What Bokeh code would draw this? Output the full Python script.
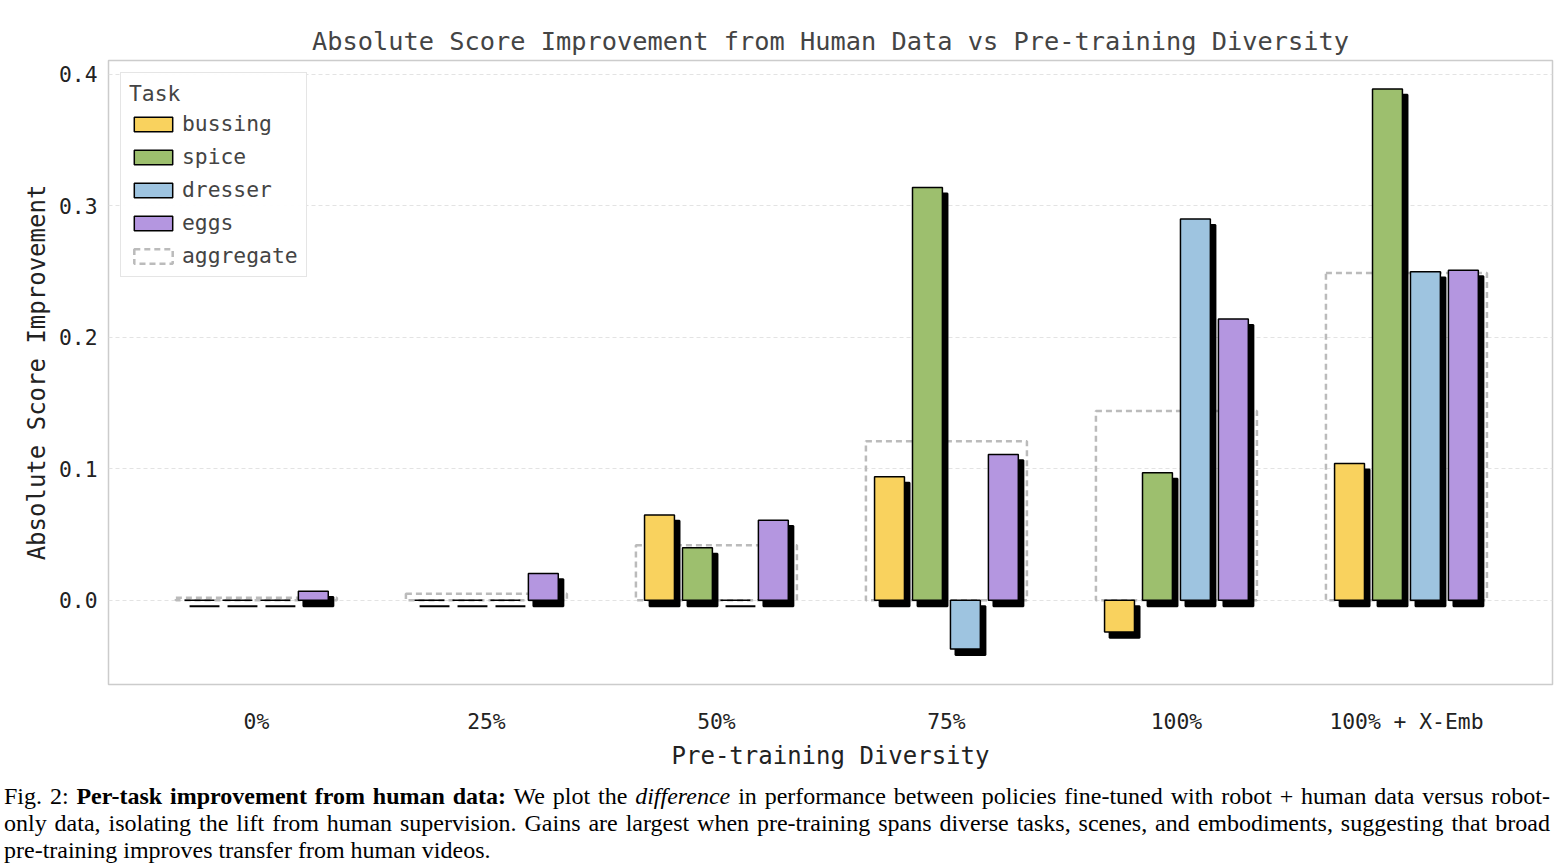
from bokeh.plotting import figure
from bokeh.models import Legend, LegendItem, FixedTicker, Div, Range1d
from bokeh.layouts import column
from bokeh.embed import file_html
from bokeh.resources import INLINE

groups = ["0%", "25%", "50%", "75%", "100%", "100% + X-Emb"]
tasks = ["bussing", "spice", "dresser", "eggs"]
colors = ["#F9D25E", "#9DBF6E", "#9EC4E0", "#B496E0"]
bussing = [0.0, 0.0, 0.065, 0.094, -0.024, 0.104]
spice = [0.0, 0.0, 0.040, 0.314, 0.097, 0.389]
dresser = [0.0, 0.0, 0.0, -0.037, 0.290, 0.250]
eggs = [0.007, 0.0205, 0.061, 0.111, 0.214, 0.251]
aggregate = [0.002, 0.005, 0.042, 0.121, 0.144, 0.249]
series = [bussing, spice, dresser, eggs]

F = "DejaVu Sans Mono"
p = figure(width=1558, height=778, output_backend="svg", toolbar_location=None,
           x_range=Range1d(-0.643, 5.635), y_range=Range1d(-0.064, 0.4106),
           min_border_left=108, min_border_right=6, min_border_top=60, min_border_bottom=94,
           title="Absolute Score Improvement from Human Data vs Pre-training Diversity")
p.title.text_font = F
p.title.text_font_size = "19pt"
p.title.text_font_style = "normal"
p.title.align = "center"
p.outline_line_color = "#cccccc"
p.outline_line_width = 1.5
p.xgrid.grid_line_color = None
p.ygrid.grid_line_color = "#e3e3e3"
p.ygrid.grid_line_dash = "4 3"
p.xaxis.ticker = FixedTicker(ticks=list(range(len(groups))))
p.xaxis.major_label_overrides = {i: g for i, g in enumerate(groups)}
p.yaxis.ticker = FixedTicker(ticks=[0.0, 0.1, 0.2, 0.3, 0.4])
p.yaxis.major_label_overrides = {0.0: "0.0", 0.1: "0.1", 0.2: "0.2", 0.3: "0.3", 0.4: "0.4"}
for ax in (p.xaxis, p.yaxis):
    ax.axis_line_color = None
    ax.major_tick_line_color = None
    ax.minor_tick_line_color = None
    ax.major_label_text_font = F
    ax.major_label_text_font_size = "16pt"
    ax.axis_label_text_font = F
    ax.axis_label_text_font_size = "18pt"
    ax.axis_label_text_font_style = "normal"
    ax.major_label_text_color = "#222222"
    ax.axis_label_text_color = "#222222"
p.xaxis.axis_label = "Pre-training Diversity"
p.yaxis.axis_label = "Absolute Score Improvement"
p.xaxis.major_label_standoff = 18

step, w = 0.165, 0.13
dx, dy = 0.022, 0.0045
xs = list(range(len(groups)))

agg = p.quad(left=[x - 0.35 for x in xs], right=[x + 0.35 for x in xs],
             bottom=[0] * len(xs), top=aggregate, fill_color=None,
             line_color="#bbbbbb", line_width=2.5, line_dash="6 4")

items = []
for k, (name, vals, c) in enumerate(zip(tasks, series, colors)):
    off = (k - 1.5) * step
    cx = [x + off for x in xs]
    p.quad(left=[x - w / 2 + dx for x in cx], right=[x + w / 2 + dx for x in cx],
           bottom=[min(0, v) - dy for v in vals], top=[max(0, v) - dy for v in vals],
           fill_color="black", line_color="black", line_width=2)
    r = p.quad(left=[x - w / 2 for x in cx], right=[x + w / 2 for x in cx],
               bottom=[0] * len(xs), top=vals, fill_color=c, line_color="black", line_width=1.5)
    items.append(LegendItem(label=name, renderers=[r]))
items.append(LegendItem(label="aggregate", renderers=[agg]))

leg = Legend(items=items, location="top_left", title="Task")
leg.title_text_font = F
leg.title_text_font_size = "16pt"
leg.title_text_font_style = "normal"
leg.label_text_font = F
leg.label_text_font_size = "16pt"
leg.border_line_color = "#cccccc"
leg.border_line_width = 1.5
leg.glyph_width = 48
leg.glyph_height = 18
leg.spacing = 8
leg.padding = 8
leg.margin = 12
p.add_layout(leg)

caption = Div(width=1546, styles={"font-family": "'Liberation Serif', serif", "font-size": "18pt",
                                  "text-align": "justify", "line-height": "27px", "margin-left": "4px"},
              text="Fig. 2: <b>Per-task improvement from human data:</b> We plot the <i>difference</i> in performance "
                   "between policies fine-tuned with robot + human data versus robot-only data, isolating the lift "
                   "from human supervision. Gains are largest when pre-training spans diverse tasks, scenes, and "
                   "embodiments, suggesting that broad pre-training improves transfer from human videos.")

open("out.html", "w").write(file_html(column(p, caption, spacing=0), INLINE))
